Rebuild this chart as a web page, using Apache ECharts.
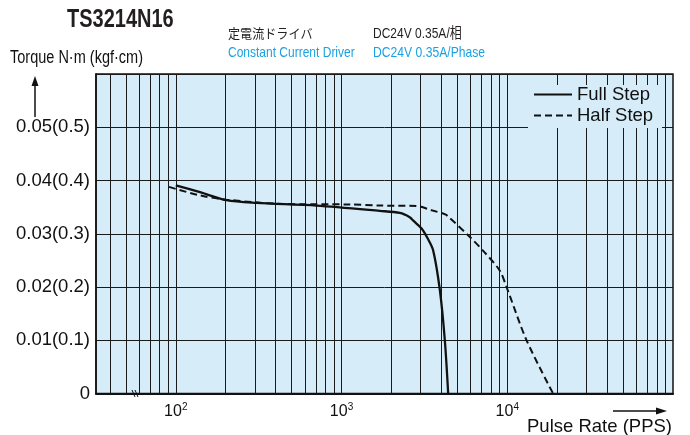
<!DOCTYPE html>
<html><head><meta charset="utf-8">
<script src="https://cdn.jsdelivr.net/npm/echarts@6/dist/echarts.min.js"></script>
<style>html,body{margin:0;padding:0;background:#fff}#c{width:690px;height:435px}</style>
</head><body><div id="c"></div>
<script>
// Pulse rate (PPS) vs torque (N·m)
const fullStep = [[100,0.0391],[140,0.0378],[202,0.0363],[307,0.0358],[706,0.0353],[1700,0.0343],[2250,0.0339],[2580,0.0331],[2700,0.0325],[3040,0.0310],[3300,0.0292],[3570,0.0269],[3920,0.0194],[4200,0.0100],[4400,0]];
const halfStep = [[91,0.0388],[140,0.0372],[202,0.0364],[442,0.0356],[1120,0.0355],[1700,0.0353],[2840,0.0352],[3500,0.0344],[4100,0.0338],[4300,0.0335],[5950,0.0294],[7300,0.0265],[9000,0.0231],[9900,0.0200],[13070,0.0100],[18900,0]];
const seriesNames = ['Full Step','Half Step'];
const gridX = [40,50,60,70,80,90,100,200,300,400,500,600,700,800,900,1000,2000,3000,4000,5000,6000,7000,8000,9000,10000,20000,30000,40000,50000,60000,70000,80000,90000];
const yTicks = [0,0.01,0.02,0.03,0.04,0.05];
const yLabels = ['0','0.01(0.1)','0.02(0.2)','0.03(0.3)','0.04(0.4)','0.05(0.5)'];
const xLabelPowers = [2,3,4];

const FONT = "'Liberation Sans', Arial, Helvetica, sans-serif";
const BG = '#d6ecf9';
function txt(x, y, text, font, fill, sx) {
  return {type:'text', x:x, y:y, scaleX:sx, z:30,
    style:{text:text, font:font, fill:fill, align:'left', verticalAlign:'top'}};
}
const chart = echarts.init(document.getElementById('c'), null, {renderer:'canvas'});
chart.setOption({
  animation:false,
  backgroundColor:'#fff',
  grid:{left:96,right:17,top:74,bottom:41.5,show:true,backgroundColor:BG,borderColor:'#111',borderWidth:1.5},
  xAxis:{type:'log',logBase:10,min:33,max:100000,
    axisLine:{show:true,lineStyle:{color:'#111',width:2}},
    axisTick:{show:false},splitLine:{show:false},
    axisLabel:{margin:9,color:'#111',fontFamily:FONT,fontSize:16,
      formatter:function(v){const p=Math.round(Math.log10(v));
        if(Math.abs(Math.log10(v)-p)<1e-6 && xLabelPowers.indexOf(p)>=0) return '10{s|'+p+'}'; return '';},
      rich:{s:{fontSize:10,fontFamily:FONT,color:'#111',verticalAlign:'top',padding:[0,0,8,0]}}}
  },
  yAxis:{type:'value',min:0,max:0.06,interval:0.01,
    axisLine:{show:true,lineStyle:{color:'#111',width:1.5}},axisTick:{show:false},
    splitLine:{show:true,lineStyle:{color:'#1a1a1a',width:1}},
    axisLabel:{margin:6,color:'#111',fontFamily:FONT,fontSize:18.5,
      formatter:function(v){const i=yTicks.findIndex(t=>Math.abs(t-v)<1e-9);return i>=0?yLabels[i]:'';}}
  },
  legend:{data:seriesNames,orient:'vertical',left:533,top:85,padding:0,itemWidth:38,itemHeight:14,itemGap:2,z:20,
    itemStyle:{color:'transparent',borderWidth:0,opacity:0},
    textStyle:{fontFamily:FONT,fontSize:18.5,color:'#111'}},
  graphic:[
    {type:'rect',z:10,shape:{x:528,y:85,width:134,height:43},style:{fill:BG}},
    txt(67, 8, 'TS3214N16', "bold 25px "+FONT, '#231f20', 0.8),
    txt(228, 27, '定電流ドライバ', "13px 'Noto Sans CJK JP'", '#231f20', 0.93),
    txt(373, 26, 'DC24V 0.35A/相', "15px "+FONT+", 'Noto Sans CJK JP'", '#231f20', 0.8),
    txt(228, 45, 'Constant Current Driver', "15px "+FONT, '#1ba1e2', 0.8),
    txt(373, 45, 'DC24V 0.35A/Phase', "15px "+FONT, '#1ba1e2', 0.81),
    txt(10, 49, 'Torque N·m (kgf·cm)', "18px "+FONT, '#111', 0.806),
    {type:'text',right:18,top:417,style:{text:'Pulse Rate (PPS)',font:"18.5px "+FONT,fill:'#111'}},
    {type:'line',shape:{x1:35,y1:117,x2:35,y2:84},style:{stroke:'#111',lineWidth:1.5}},
    {type:'polygon',shape:{points:[[35,76],[31.5,86],[38.5,86]]},style:{fill:'#111'}},
    {type:'line',shape:{x1:613,y1:411,x2:658,y2:411},style:{stroke:'#111',lineWidth:1.5}},
    {type:'polygon',shape:{points:[[667,411],[656,407.5],[656,414.5]]},style:{fill:'#111'}},
    {type:'polyline',z:15,shape:{points:[[132,390],[135,397]]},style:{stroke:'#111',lineWidth:1}},
    {type:'polyline',z:15,shape:{points:[[135,390],[138,397]]},style:{stroke:'#111',lineWidth:1}}
  ],
  series:[
    {type:'line',data:[],z:1,silent:true,
      markLine:{silent:true,symbol:['none','none'],label:{show:false},animation:false,
        lineStyle:{color:'#1a1a1a',width:1,type:'solid'},emphasis:{disabled:true},
        data:gridX.map(v=>({xAxis:v}))}},
    {name:seriesNames[0],type:'line',data:fullStep,symbol:'none',smooth:0.3,z:5,
      lineStyle:{color:'#111',width:2.3,type:'solid'},itemStyle:{color:'#111'}},
    {name:seriesNames[1],type:'line',data:halfStep,symbol:'none',smooth:0.3,z:5,
      lineStyle:{color:'#111',width:2,type:[7,4]},itemStyle:{color:'#111'}}
  ]
});
</script></body></html>
